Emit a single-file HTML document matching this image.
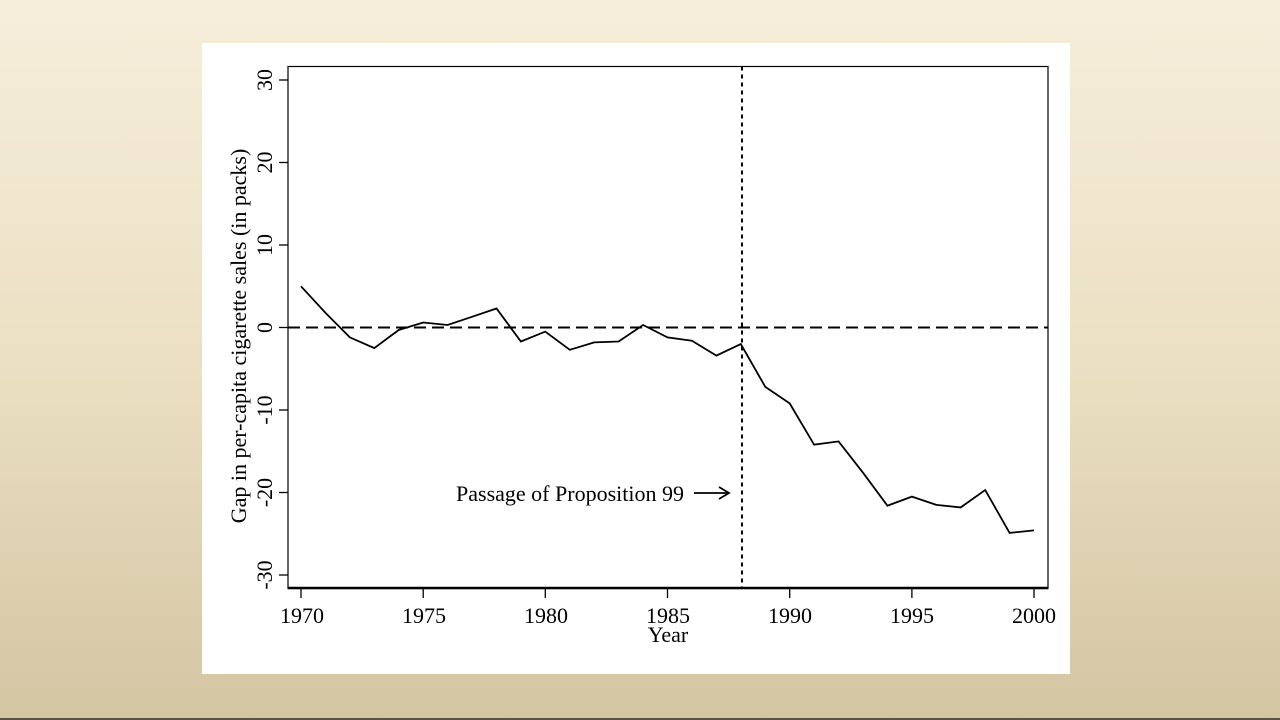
<!DOCTYPE html>
<html><head><style>
html,body{margin:0;padding:0;}
body{width:1280px;height:720px;overflow:hidden;background:linear-gradient(to bottom,#f6eedb 0%,#ebe0c3 50%,#d4c5a2 100%);position:relative;}
svg{position:absolute;left:0;top:0;}
</style></head><body>
<svg width="1280" height="720" viewBox="0 0 1280 720" font-family="'Liberation Serif',serif" font-size="22">
<rect x="0" y="718" width="1280" height="2" fill="#5a5448"/>
<rect x="202" y="43" width="868" height="631" fill="#fff"/>
<rect x="288" y="66.5" width="760" height="522" fill="none" stroke="#000" stroke-width="1.2"/>
<line x1="288" y1="588" x2="1048" y2="588" stroke="#000" stroke-width="2.5"/>
<g stroke="#000" stroke-width="1.3">
<line x1="279" y1="80" x2="288" y2="80"/><line x1="279" y1="162.5" x2="288" y2="162.5"/><line x1="279" y1="245" x2="288" y2="245"/><line x1="279" y1="327.5" x2="288" y2="327.5"/><line x1="279" y1="410" x2="288" y2="410"/><line x1="279" y1="492.5" x2="288" y2="492.5"/><line x1="279" y1="575" x2="288" y2="575"/>
<line x1="301" y1="588" x2="301" y2="598"/><line x1="423.2" y1="588" x2="423.2" y2="598"/><line x1="545.3" y1="588" x2="545.3" y2="598"/><line x1="667.5" y1="588" x2="667.5" y2="598"/><line x1="789.7" y1="588" x2="789.7" y2="598"/><line x1="911.9" y1="588" x2="911.9" y2="598"/><line x1="1034" y1="588" x2="1034" y2="598"/>
</g>
<g text-anchor="middle">
<text transform="translate(272,80) rotate(-90)">30</text>
<text transform="translate(272,162.5) rotate(-90)">20</text>
<text transform="translate(272,245) rotate(-90)">10</text>
<text transform="translate(272,327.5) rotate(-90)">0</text>
<text transform="translate(272,410) rotate(-90)">-10</text>
<text transform="translate(272,492.5) rotate(-90)">-20</text>
<text transform="translate(272,575) rotate(-90)">-30</text>
<text transform="translate(246,336) rotate(-90)">Gap in per-capita cigarette sales (in packs)</text>
<text x="302" y="623">1970</text><text x="424" y="623">1975</text><text x="546" y="623">1980</text><text x="668" y="623">1985</text><text x="790" y="623">1990</text><text x="912" y="623">1995</text><text x="1034" y="623">2000</text>
<text x="668" y="642">Year</text>
</g>
<line x1="288" y1="327.5" x2="1048" y2="327.5" stroke="#000" stroke-width="2" stroke-dasharray="12,6"/>
<line x1="742" y1="66.5" x2="742" y2="588" stroke="#000" stroke-width="2" stroke-dasharray="4,4"/>
<polyline fill="none" stroke="#000" stroke-width="1.8" points="301,286.3 325.4,312.7 349.9,337.4 374.3,348.1 398.7,330 423.2,322.5 447.6,325 472,316.8 496.5,308.5 520.9,341.5 545.3,331.6 569.8,349.8 594.2,342.4 618.6,341.5 643.1,325 667.5,337.4 691.9,340.7 716.4,355.6 740.8,344 765.3,386.9 789.7,403.4 814.1,444.7 838.6,441.4 863,472.7 887.4,505.7 911.9,496.6 936.3,504.9 960.7,507.4 985.2,490 1009.6,532.9 1034,530.4"/>
<text x="456" y="501" textLength="228" lengthAdjust="spacingAndGlyphs">Passage of Proposition 99</text>
<line x1="694" y1="493" x2="728" y2="493" stroke="#000" stroke-width="1.8"/>
<polyline points="719,487 729,493 719,499" fill="none" stroke="#000" stroke-width="1.8"/>
</svg>
</body></html>
